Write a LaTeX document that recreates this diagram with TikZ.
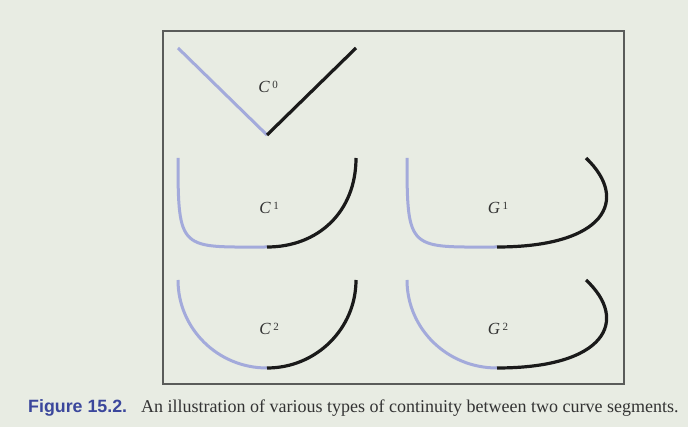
\documentclass[tikz,border=0pt]{standalone}
\usepackage{fontspec}
\setmainfont{Liberation Serif}
\setsansfont{Liberation Sans}
\definecolor{bg}{HTML}{E8ECE3}
\definecolor{curveblue}{HTML}{A3AADB}
\definecolor{curveblack}{HTML}{1A1A1A}
\definecolor{framegray}{HTML}{5A5C5A}
\definecolor{figblue}{HTML}{3B479C}
\definecolor{labelgray}{HTML}{333333}
\newcommand{\suplbl}[2]{\textit{#1}\kern2.5pt\raisebox{0.6ex}{\fontsize{11}{13}\selectfont #2}}
\tikzset{
  bluecurve/.style={draw=curveblue,line width=3pt},
  blackcurve/.style={draw=curveblack,line width=3.2pt},
  lbl/.style={text=labelgray,font=\fontsize{17}{19}\selectfont,inner sep=0pt},
  frame/.style={draw=framegray,line width=1.4pt},
}
\begin{document}
\begin{tikzpicture}[x=1pt,y=-1pt]
\fill[bg] (0,0) rectangle (688,427);
\useasboundingbox (0,0) rectangle (688,427);
\draw[frame] (163,31) rectangle (624,384);
% C0
\coordinate (c0a) at (178,48);
\coordinate (c0m) at (267,135);
\coordinate (c0b) at (356,48);
\draw[bluecurve] (c0a) -- (c0m);
\draw[blackcurve] (c0m) -- (c0b);
\node[lbl] (l0) at (268,87) {\suplbl{C}{0}};
% C1
\coordinate (c1a) at (178,158);
\coordinate (c1m) at (267,247);
\coordinate (c1b) at (356,158);
\draw[bluecurve] (c1a) .. controls (178,252) and (180,247) .. (c1m);
\draw[blackcurve] (c1m) .. controls (318,247) and (356,212) .. (c1b);
\node[lbl] (l1) at (269,208) {\suplbl{C}{1}};
% G1
\coordinate (g1a) at (407,158);
\coordinate (g1m) at (497,247);
\coordinate (g1b) at (586,158);
\draw[bluecurve] (g1a) .. controls (407,252) and (409,247) .. (g1m);
\draw[blackcurve] (g1m) .. controls (605,247) and (630,200) .. (g1b);
\node[lbl] (lg1) at (498,208) {\suplbl{G}{1}};
% C2
\coordinate (c2a) at (178,280);
\coordinate (c2m) at (267,368);
\coordinate (c2b) at (356,280);
\draw[bluecurve] (c2a) .. controls (178,328.6) and (217.8,368) .. (c2m);
\draw[blackcurve] (c2m) .. controls (316.2,368) and (356,328.6) .. (c2b);
\node[lbl] (l2) at (269,329) {\suplbl{C}{2}};
% G2
\coordinate (g2a) at (407,280);
\coordinate (g2m) at (497,368);
\coordinate (g2b) at (586,280);
\draw[bluecurve] (g2a) .. controls (407,328.6) and (447,368) .. (g2m);
\draw[blackcurve] (g2m) .. controls (605,368) and (630,321) .. (g2b);
\node[lbl] (lg2) at (498,329) {\suplbl{G}{2}};
% caption
\node[anchor=base west,inner sep=0pt,text=figblue,font=\sffamily\bfseries\fontsize{17.8}{20}\selectfont] (capa) at (28,413) {Figure 15.2.};
\node[anchor=base west,inner sep=0pt,text=labelgray,font=\fontsize{18}{20}\selectfont] (capb) at (141,413) {An illustration of various types of continuity between two curve segments.};
\end{tikzpicture}
\end{document}
